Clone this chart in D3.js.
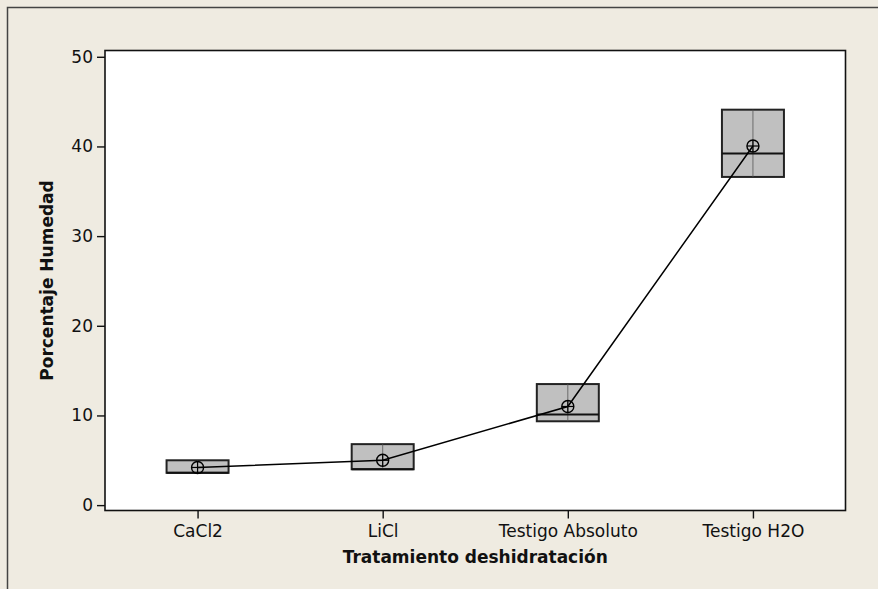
<!DOCTYPE html>
<html>
<head>
<meta charset="utf-8">
<script src="https://cdn.jsdelivr.net/npm/d3@7"></script>
<style>
  html, body { margin: 0; padding: 0; background: #EFEBE1; }
  svg { display: block; }
  text { font-family: "DejaVu Sans", sans-serif; fill: #111; }
</style>
</head>
<body>
<svg id="chart" width="878" height="589"></svg>
<script>
// Treatments and box summaries (% moisture)
const categories = ["CaCl2", "LiCl", "Testigo Absoluto", "Testigo H2O"];
const q1Values     = [3.6, 4.0, 9.35, 36.6];
const medianValues = [3.6, 4.0, 10.1, 39.2];
const q3Values     = [5.0, 6.8, 13.5, 44.1];
const meanValues   = [4.2, 5.0, 11.0, 40.05];
const yTicks = [0, 10, 20, 30, 40, 50];

const xTitle = "Tratamiento deshidratación";
const yTitle = "Porcentaje Humedad";

const svg = d3.select("#chart");
const W = 878, H = 589;
const plot = { left: 105, right: 845.5, top: 50.5, bottom: 510.5 };

// Outer graph frame (continues past the visible window)
svg.append("rect")
  .attr("x", 0).attr("y", 0).attr("width", W).attr("height", H)
  .attr("fill", "#EFEBE1");
svg.append("rect")
  .attr("x", 7.5).attr("y", 7.5).attr("width", 1000).attr("height", 1000)
  .attr("fill", "none").attr("stroke", "#444").attr("stroke-width", 1.5);

// Data region
svg.append("rect")
  .attr("x", plot.left).attr("y", plot.top)
  .attr("width", plot.right - plot.left).attr("height", plot.bottom - plot.top)
  .attr("fill", "#fff");

const x = d3.scalePoint().domain(categories).range([plot.left, plot.right]).padding(0.5);
const y = d3.scaleLinear().domain([-0.6, 50.7]).range([plot.bottom, plot.top]);

const boxW = 62;
const rows = categories.map((c, i) => ({
  cat: c, q1: q1Values[i], med: medianValues[i], q3: q3Values[i], mean: meanValues[i]
}));

// Boxes
const g = svg.append("g");
g.selectAll("rect.box").data(rows).join("rect")
  .attr("class", "box")
  .attr("x", d => x(d.cat) - boxW / 2)
  .attr("y", d => y(d.q3))
  .attr("width", boxW)
  .attr("height", d => y(d.q1) - y(d.q3))
  .attr("fill", "#C0C0C0")
  .attr("stroke", "#222")
  .attr("stroke-width", 2);

// Whisker centre line through each box
g.selectAll("line.whisk").data(rows).join("line")
  .attr("x1", d => x(d.cat)).attr("x2", d => x(d.cat))
  .attr("y1", d => y(d.q3)).attr("y2", d => y(d.q1))
  .attr("stroke", "#555").attr("stroke-width", 0.8);

// Medians
g.selectAll("line.med").data(rows).join("line")
  .attr("x1", d => x(d.cat) - boxW / 2).attr("x2", d => x(d.cat) + boxW / 2)
  .attr("y1", d => y(d.med)).attr("y2", d => y(d.med))
  .attr("stroke", "#111").attr("stroke-width", 2);

// Line connecting means
g.append("path")
  .datum(rows)
  .attr("fill", "none")
  .attr("stroke", "#000")
  .attr("stroke-width", 1.5)
  .attr("d", d3.line().x(d => x(d.cat)).y(d => y(d.mean)));

// Mean symbols: circle with cross
const r = 6;
const sym = g.selectAll("g.mean").data(rows).join("g")
  .attr("transform", d => `translate(${x(d.cat)},${y(d.mean)})`);
sym.append("circle").attr("r", r).attr("fill", "none")
  .attr("stroke", "#000").attr("stroke-width", 1.4);
sym.append("line").attr("x1", -r).attr("x2", r)
  .attr("stroke", "#000").attr("stroke-width", 1.2);
sym.append("line").attr("y1", -r).attr("y2", r)
  .attr("stroke", "#000").attr("stroke-width", 1.2);

// Plot border
svg.append("rect")
  .attr("x", plot.left).attr("y", plot.top)
  .attr("width", plot.right - plot.left).attr("height", plot.bottom - plot.top)
  .attr("fill", "none").attr("stroke", "#111").attr("stroke-width", 1.6);

// Axes
const yAxis = svg.append("g")
  .attr("transform", `translate(${plot.left},0)`)
  .call(d3.axisLeft(y).tickValues(yTicks).tickSize(8).tickPadding(4));
const xAxis = svg.append("g")
  .attr("transform", `translate(0,${plot.bottom})`)
  .call(d3.axisBottom(x).tickSize(8).tickPadding(6));

[yAxis, xAxis].forEach(a => {
  a.select(".domain").remove();
  a.selectAll(".tick line").attr("stroke", "#111").attr("stroke-width", 1.4);
  a.selectAll(".tick text")
    .attr("font-family", "DejaVu Sans, sans-serif")
    .attr("font-size", 17)
    .attr("fill", "#111");
});

// Axis titles
svg.append("text")
  .attr("x", (plot.left + plot.right) / 2)
  .attr("y", 563)
  .attr("text-anchor", "middle")
  .attr("font-size", 17)
  .attr("font-weight", "bold")
  .text(xTitle);

svg.append("text")
  .attr("transform", `translate(53,${(plot.top + plot.bottom) / 2}) rotate(-90)`)
  .attr("text-anchor", "middle")
  .attr("font-size", 17)
  .attr("font-weight", "bold")
  .text(yTitle);
</script>
</body>
</html>
